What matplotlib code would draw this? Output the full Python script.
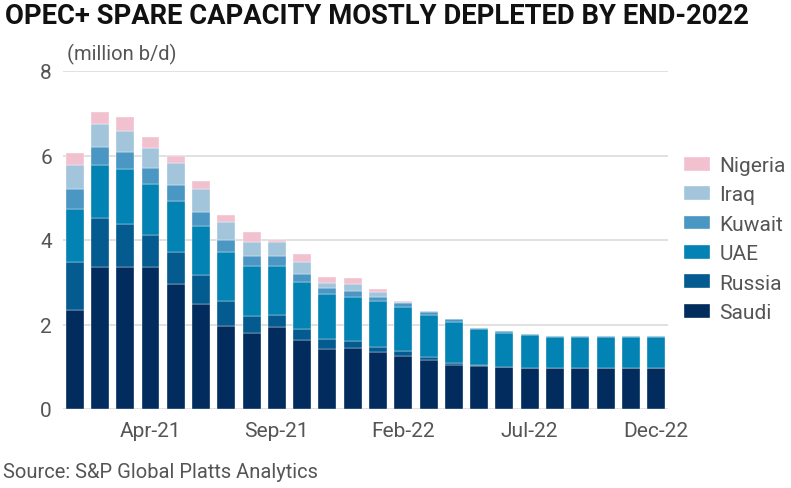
import matplotlib
matplotlib.use("Agg")
import matplotlib.pyplot as plt
import numpy as np

months = ["Jan-21", "Feb-21", "Mar-21", "Apr-21", "May-21", "Jun-21", "Jul-21", "Aug-21",
          "Sep-21", "Oct-21", "Nov-21", "Dec-21", "Jan-22", "Feb-22", "Mar-22", "Apr-22",
          "May-22", "Jun-22", "Jul-22", "Aug-22", "Sep-22", "Oct-22", "Nov-22", "Dec-22"]

saudi = [2.34, 3.37, 3.37, 3.35, 2.97, 2.49, 1.96, 1.81, 1.93, 1.64, 1.43, 1.45,
         1.34, 1.25, 1.15, 1.05, 1.01, 0.99, 0.98, 0.97, 0.97, 0.97, 0.97, 0.97]
russia = [1.15, 1.15, 1.02, 0.76, 0.74, 0.67, 0.59, 0.40, 0.30, 0.25, 0.23, 0.15,
          0.13, 0.13, 0.08, 0.05, 0.02, 0.01, 0.0, 0.0, 0.0, 0.0, 0.0, 0.0]
uae = [1.25, 1.26, 1.30, 1.22, 1.22, 1.18, 1.17, 1.17, 1.16, 1.12, 1.07, 1.06,
       1.08, 1.03, 1.00, 0.97, 0.86, 0.81, 0.76, 0.73, 0.73, 0.73, 0.73, 0.73]
kuwait = [0.46, 0.43, 0.40, 0.37, 0.36, 0.32, 0.27, 0.23, 0.22, 0.19, 0.14, 0.14,
          0.10, 0.10, 0.07, 0.06, 0.03, 0.04, 0.03, 0.03, 0.03, 0.03, 0.03, 0.03]
iraq = [0.58, 0.54, 0.50, 0.48, 0.54, 0.54, 0.43, 0.34, 0.34, 0.28, 0.11, 0.15,
        0.13, 0.03, 0.02, 0.0, 0.0, 0.0, 0.0, 0.0, 0.0, 0.0, 0.0, 0.0]
nigeria = [0.27, 0.27, 0.31, 0.25, 0.17, 0.19, 0.17, 0.23, 0.05, 0.20, 0.15, 0.15,
           0.06, 0.01, 0.0, 0.0, 0.0, 0.0, 0.0, 0.0, 0.0, 0.0, 0.0, 0.0]

series_names = ["Saudi", "Russia", "UAE", "Kuwait", "Iraq", "Nigeria"]
series_values = [saudi, russia, uae, kuwait, iraq, nigeria]
colors = ["#022c5e", "#045b8f", "#0383b4", "#4b97c3", "#a3c5dc", "#f2c1cf"]

tick_labels = ["Apr-21", "Sep-21", "Feb-22", "Jul-22", "Dec-22"]
yticks = [0, 2, 4, 6, 8]

plt.rcParams['font.family'] = ['Roboto', 'DejaVu Sans']

fig = plt.figure(figsize=(7.91, 4.89), dpi=100)
ax = fig.add_axes([63/791, 1-410/489, (668-63)/791, (410-72)/489])

x = np.arange(len(months))
bottom = np.zeros(len(months))
handles = []
for name, vals, c in zip(series_names, series_values, colors):
    v = np.array(vals)
    b = ax.bar(x, v, bottom=bottom, width=0.71, color=c, label=name,
               edgecolor='white', linewidth=0.25, zorder=3)
    handles.append(b)
    bottom += v

ax.set_xlim(-0.46, 23.47)
ax.set_ylim(0, 8)
ax.set_yticks(yticks)
ax.set_yticklabels([str(t) for t in yticks])
ax.yaxis.grid(True, color="#dcdcdc", linewidth=1.2, zorder=0)
ax.set_axisbelow(True)
for s in ax.spines.values():
    s.set_visible(False)
ax.tick_params(axis='both', length=0, labelsize=15, colors="#555555")
ax.tick_params(axis='y', pad=8)
ax.tick_params(axis='x', pad=9)
ax.set_xticks([months.index(t) for t in tick_labels])
ax.set_xticklabels(tick_labels)

leg = fig.legend(handles[::-1], series_names[::-1], loc='upper left',
                 bbox_to_anchor=(684/791, 1-157/489), frameon=False,
                 fontsize=15, handlelength=1.25, handleheight=0.65,
                 labelspacing=0.5, handletextpad=0.45, labelcolor="#555555",
                 borderaxespad=0, borderpad=0)

fig.text(5/791, 1-16/489, "OPEC+ SPARE CAPACITY MOSTLY DEPLETED BY END-2022",
         fontsize=19.7, fontweight='bold', color="#111111", va='center', ha='left')
fig.text(67/791, 1-54/489, "(million b/d)", fontsize=14.5, color="#555555",
         va='center', ha='left')
fig.text(3/791, 1-473/489, "Source: S&P Global Platts Analytics", fontsize=14.5,
         color="#555555", va='center', ha='left')

fig.savefig("out.png", dpi=100)
